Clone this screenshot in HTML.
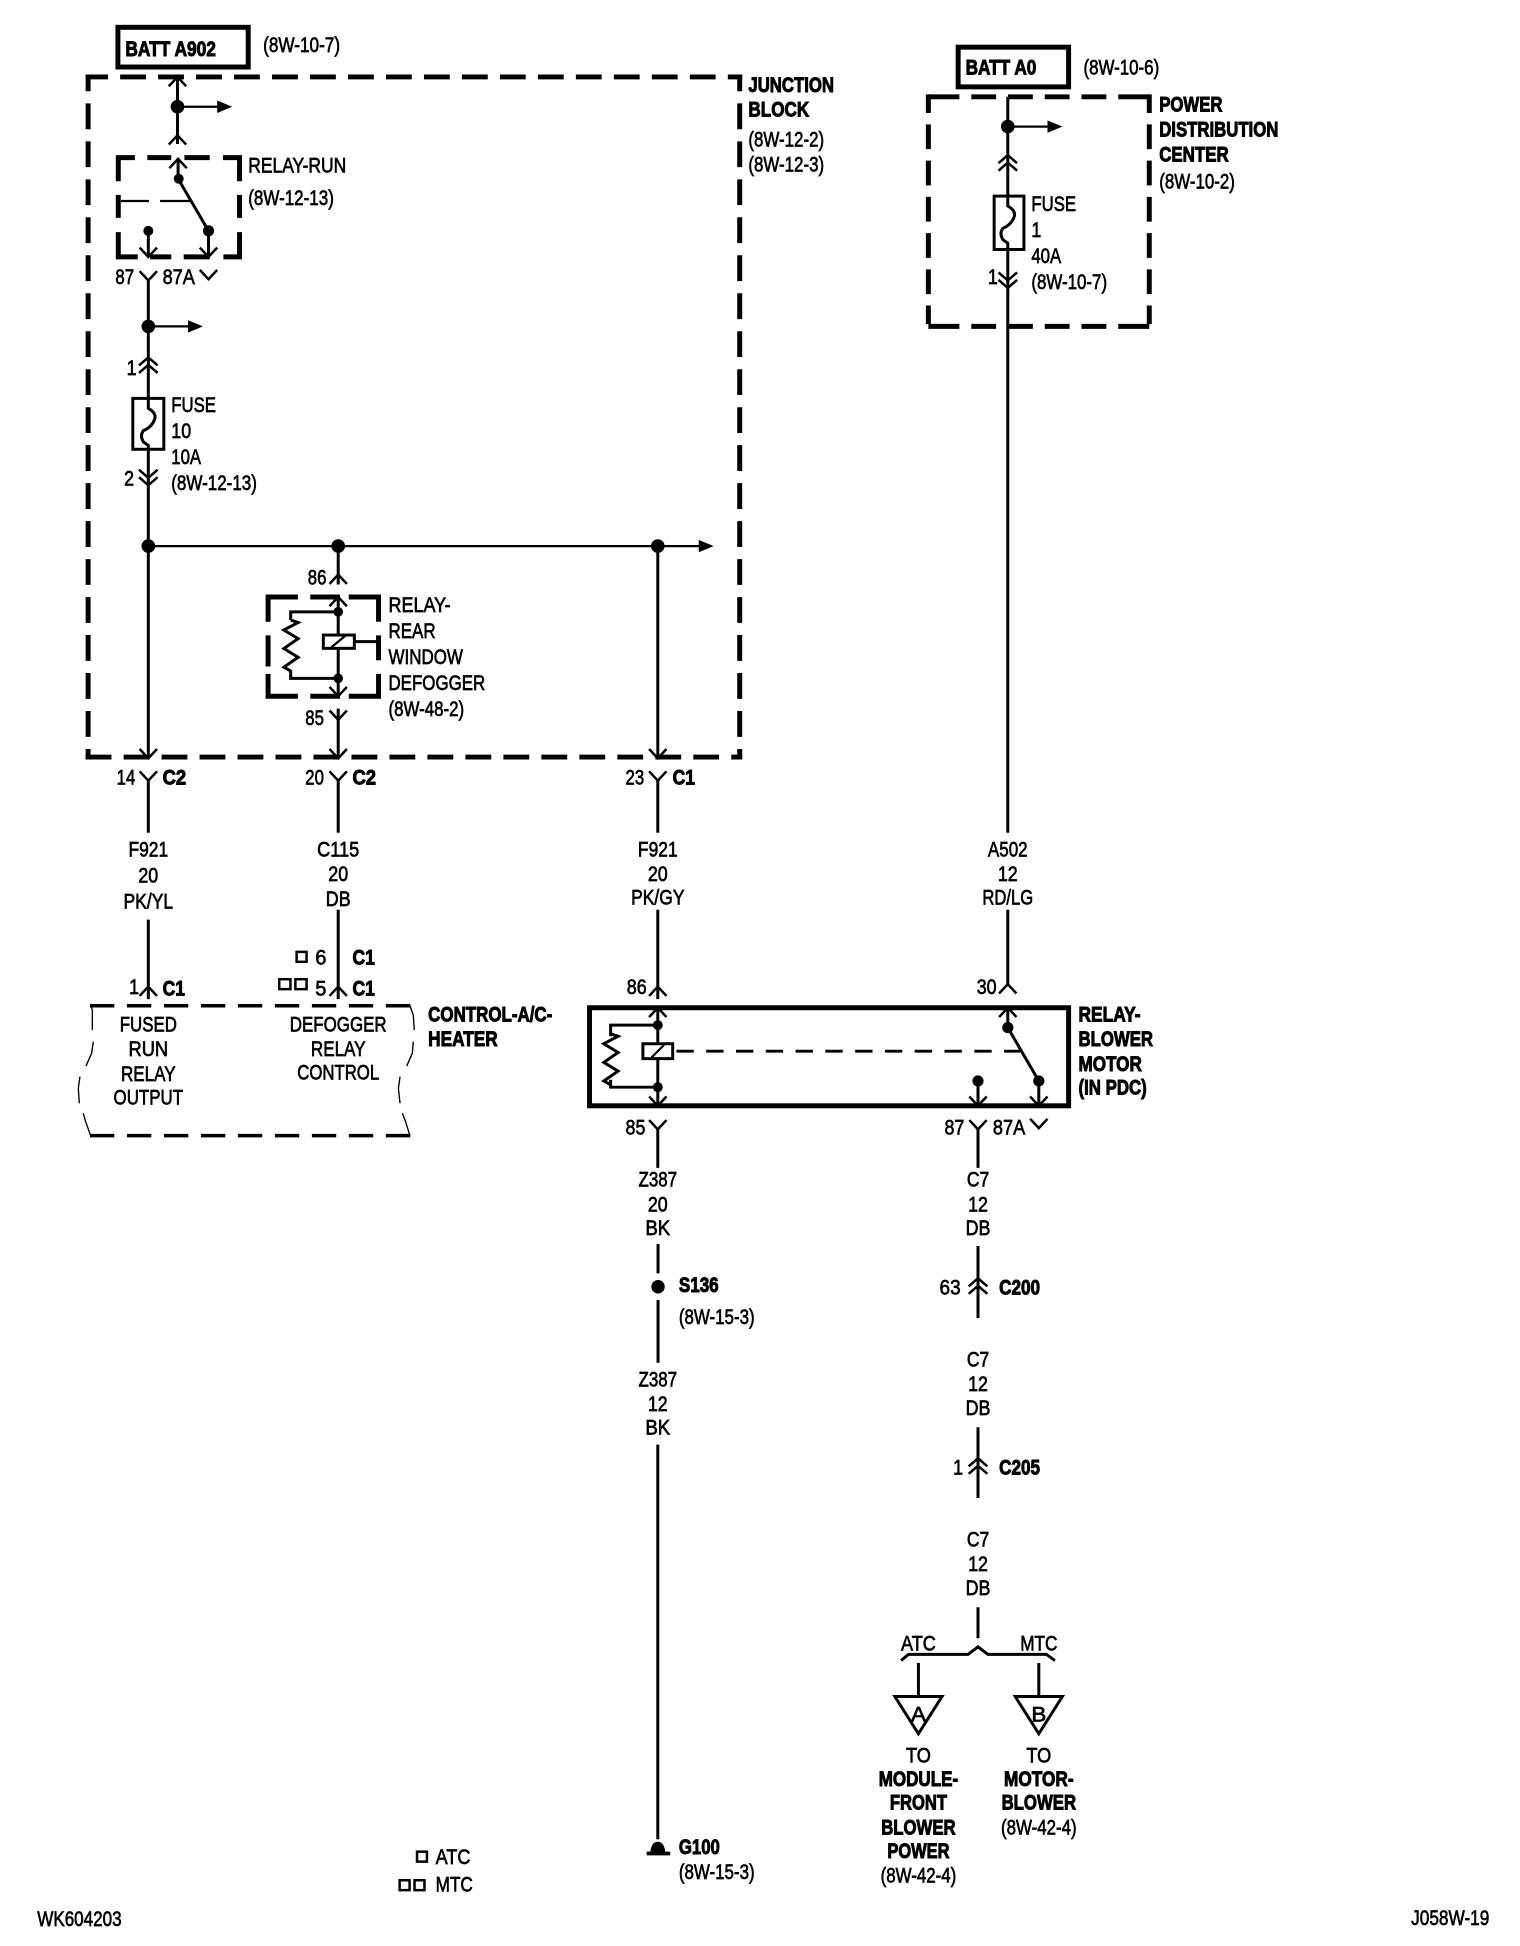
<!DOCTYPE html>
<html><head><meta charset="utf-8"><style>
html,body{margin:0;padding:0;background:#fff}
svg{display:block}
text{font-family:"Liberation Sans",Arial,sans-serif;font-size:17.5px;fill:#000;stroke:#000;stroke-width:.55px}
.b{font-weight:bold;stroke-width:.8px}
.m{text-anchor:middle}
.w{fill:none;stroke:#000;stroke-width:2.4}
.h{fill:none;stroke:#000;stroke-width:1.8}
.c{fill:none;stroke:#000;stroke-width:2}
.d{fill:none;stroke:#000;stroke-width:4}
.t{fill:none;stroke:#000;stroke-width:1.1}
</style></head><body>
<svg xmlns="http://www.w3.org/2000/svg" width="1520" height="1946" viewBox="0 0 1224.7 1568" preserveAspectRatio="none">
<defs>
<path id="u" class="c" d="M-7 7.5 L0 0 L7 7.5"/>
<path id="v" class="c" d="M-7 -7.5 L0 0 L7 -7.5"/>
<path id="du" class="c" d="M-7.5 6.5 L0 0 L7.5 6.5M-7.5 12.5 L0 6 L7.5 12.5"/>
<path id="dv" class="c" d="M-7.5 -6.5 L0 0 L7.5 -6.5M-7.5 -12.5 L0 -6 L7.5 -12.5"/>
<g id="ar"><path class="h" d="M0 0H34"/><path d="M32 -5L44 0L32 5Z"/></g>
<path id="fz" class="w" d="M0 0V8Q7 12 5 17Q3 23 -4 26Q-7 30 -4 35L0 38V42"/>
<path id="zz" class="w" d="M0 0L6 2L-5.5 8L6 15L-5.5 23L6 30L-5.5 38L0 41"/>
</defs>

<!-- Junction block -->
<path class="d" stroke-dasharray="20.8 9.8" stroke-dashoffset="2.8" d="M69 62H598"/>
<path class="d" stroke-dasharray="20.8 9.8" d="M69 610H598"/>
<path class="d" stroke-dasharray="20.8 9.8" stroke-dashoffset="7.3" d="M71 60V612"/>
<path class="d" stroke-dasharray="20.8 9.8" stroke-dashoffset="7.3" d="M596 60V612"/>
<rect x="95" y="22" width="105" height="32" fill="none" stroke="#000" stroke-width="4"/>
<text x="101" y="45" class="b" textLength="73" lengthAdjust="spacingAndGlyphs">BATT A902</text>
<text x="212" y="42" textLength="62" lengthAdjust="spacingAndGlyphs">(8W-10-7)</text>
<path class="w" d="M143 62V116"/>
<use href="#u" x="143" y="62"/><use href="#u" x="143" y="109"/>
<circle cx="143" cy="86" r="5.5"/><use href="#ar" x="143" y="86"/>

<!-- Relay run -->
<path class="d" d="M95.3 146V127H108.7M118.7 127H138M148.6 127H169M179.7 127H193V146M95.3 157V175.6M193 157V175.6M95.3 187V207H111M121 207H138M148 207H169M180 207H193V187"/>
<path class="w" d="M143.5 128V144L168 186M119.5 186V207M168 186V207"/>
<path class="h" d="M97.5 162H120M129 162H153"/>
<use href="#u" x="143.5" y="128"/>
<circle cx="144" cy="144" r="4"/><circle cx="119.5" cy="186" r="4"/><circle cx="168" cy="186" r="4.5"/>
<use href="#v" x="119.5" y="207"/><use href="#v" x="168" y="207"/>
<text x="200" y="139" textLength="79" lengthAdjust="spacingAndGlyphs">RELAY-RUN</text>
<text x="200" y="165" textLength="69" lengthAdjust="spacingAndGlyphs">(8W-12-13)</text>
<text x="93" y="229" textLength="15" lengthAdjust="spacingAndGlyphs">87</text>
<text x="131" y="229" textLength="26" lengthAdjust="spacingAndGlyphs">87A</text>
<path class="w" d="M119.5 225V321M119.5 362V610"/>
<use href="#v" x="119.5" y="226"/><use href="#v" x="168" y="225"/>
<circle cx="119.5" cy="263" r="5.5"/><use href="#ar" x="119.5" y="263"/>
<text x="102" y="302" textLength="8" lengthAdjust="spacingAndGlyphs">1</text>
<use href="#du" x="119.5" y="288"/>
<rect x="107" y="321" width="25" height="41" fill="#fff" stroke="#000" stroke-width="2.4"/>
<use href="#fz" x="119.5" y="321"/>
<text x="138" y="332" textLength="36" lengthAdjust="spacingAndGlyphs">FUSE</text>
<text x="138" y="353" textLength="16" lengthAdjust="spacingAndGlyphs">10</text>
<text x="138" y="374" textLength="24" lengthAdjust="spacingAndGlyphs">10A</text>
<text x="138" y="395" textLength="69" lengthAdjust="spacingAndGlyphs">(8W-12-13)</text>
<text x="100" y="391" textLength="8" lengthAdjust="spacingAndGlyphs">2</text>
<use href="#dv" x="119.5" y="391"/>

<!-- Bus -->
<path class="h" d="M119 440H565"/>
<path class="w" d="M272.5 440V471M530 440V610"/>
<path d="M563 435L575 440L563 445Z"/>
<circle cx="119.5" cy="440" r="5.5"/><circle cx="272.5" cy="440" r="5.5"/><circle cx="530" cy="440" r="5.5"/>

<!-- Relay defogger -->
<text x="248" y="471" textLength="15" lengthAdjust="spacingAndGlyphs">86</text>
<use href="#u" x="272.5" y="463"/>
<path class="d" d="M216 501V481H240M250 481H274M281 481H305V501M216 512V537M305 512V532M216 543V561H240M250 561H274M281 561H305V543"/>
<use href="#u" x="272.5" y="481"/>
<path class="w" d="M272.5 481V561M272.5 493H234.2V499.6M234.2 540V546.6H272.5M272.5 571V610"/>
<path class="w" d="M285 517H305"/>
<use href="#zz" x="234.2" y="499.6"/>
<circle cx="272.5" cy="493" r="3.9"/><circle cx="272.5" cy="546.6" r="3.9"/>
<rect x="260.5" y="511.7" width="25" height="10.7" fill="#fff" stroke="#000" stroke-width="2.4"/>
<path class="h" d="M267 521.5L278 512.5"/>
<use href="#v" x="272.5" y="561"/>
<text x="246" y="584" textLength="15" lengthAdjust="spacingAndGlyphs">85</text>
<use href="#v" x="272.5" y="580"/>
<text x="313" y="493" textLength="50" lengthAdjust="spacingAndGlyphs">RELAY-</text>
<text x="313" y="514" textLength="38" lengthAdjust="spacingAndGlyphs">REAR</text>
<text x="313" y="535" textLength="60" lengthAdjust="spacingAndGlyphs">WINDOW</text>
<text x="313" y="556" textLength="78" lengthAdjust="spacingAndGlyphs">DEFOGGER</text>
<text x="313" y="577" textLength="61" lengthAdjust="spacingAndGlyphs">(8W-48-2)</text>
<use href="#v" x="119.5" y="611"/><use href="#v" x="272.5" y="611"/><use href="#v" x="530" y="611"/>

<text x="603" y="74" class="b" textLength="69" lengthAdjust="spacingAndGlyphs">JUNCTION</text>
<text x="603" y="94" class="b" textLength="49" lengthAdjust="spacingAndGlyphs">BLOCK</text>
<text x="603" y="118" textLength="61" lengthAdjust="spacingAndGlyphs">(8W-12-2)</text>
<text x="603" y="138" textLength="61" lengthAdjust="spacingAndGlyphs">(8W-12-3)</text>

<!-- Connectors below block -->
<use href="#v" x="119.5" y="629"/><use href="#v" x="272.5" y="629"/><use href="#v" x="530" y="629"/>
<path class="w" d="M119.5 629V671M272.5 629V671M530 629V671M119.5 741V805M272.5 733V805M530 733V805"/>
<text x="94" y="632" textLength="15" lengthAdjust="spacingAndGlyphs">14</text>
<text x="131" y="632" class="b" textLength="19" lengthAdjust="spacingAndGlyphs">C2</text>
<text x="246" y="632" textLength="15" lengthAdjust="spacingAndGlyphs">20</text>
<text x="284" y="632" class="b" textLength="19" lengthAdjust="spacingAndGlyphs">C2</text>
<text x="504" y="632" textLength="15" lengthAdjust="spacingAndGlyphs">23</text>
<text x="542" y="632" class="b" textLength="18" lengthAdjust="spacingAndGlyphs">C1</text>

<text x="119.5" y="690" class="m" textLength="32" lengthAdjust="spacingAndGlyphs">F921</text>
<text x="119.5" y="711" class="m" textLength="16" lengthAdjust="spacingAndGlyphs">20</text>
<text x="119.5" y="732" class="m" textLength="40" lengthAdjust="spacingAndGlyphs">PK/YL</text>
<text x="272.5" y="690" class="m" textLength="34" lengthAdjust="spacingAndGlyphs">C115</text>
<text x="272.5" y="710" class="m" textLength="16" lengthAdjust="spacingAndGlyphs">20</text>
<text x="272.5" y="730" class="m" textLength="20" lengthAdjust="spacingAndGlyphs">DB</text>
<text x="530" y="690" class="m" textLength="32" lengthAdjust="spacingAndGlyphs">F921</text>
<text x="530" y="710" class="m" textLength="16" lengthAdjust="spacingAndGlyphs">20</text>
<text x="530" y="729" class="m" textLength="43" lengthAdjust="spacingAndGlyphs">PK/GY</text>

<use href="#u" x="119.5" y="795"/><use href="#u" x="272.5" y="795"/><use href="#u" x="530" y="795"/>
<text x="104" y="801" textLength="8" lengthAdjust="spacingAndGlyphs">1</text>
<text x="131" y="802" class="b" textLength="18" lengthAdjust="spacingAndGlyphs">C1</text>
<rect x="239" y="767" width="8" height="8" fill="none" stroke="#000" stroke-width="2"/>
<text x="254" y="777" textLength="9" lengthAdjust="spacingAndGlyphs">6</text>
<text x="284" y="777" class="b" textLength="18" lengthAdjust="spacingAndGlyphs">C1</text>
<rect x="225" y="789" width="9" height="8" fill="none" stroke="#000" stroke-width="2"/>
<rect x="238" y="789" width="9" height="8" fill="none" stroke="#000" stroke-width="2"/>
<text x="254" y="802" textLength="9" lengthAdjust="spacingAndGlyphs">5</text>
<text x="284" y="802" class="b" textLength="18" lengthAdjust="spacingAndGlyphs">C1</text>

<!-- Control -->
<path fill="none" stroke="#000" stroke-width="2.8" stroke-dasharray="19.6 10.2" d="M72.5 810.4H331M72.5 915H331"/>
<path class="t" d="M73 810.3L74.4 813.8V830M75.2 839.3L73.8 848.7L69.3 859M64.4 867.5L63.1 877L63.9 889M67.1 897L69 903.8L73 915M330.3 810.3L333 818L333.8 830M333 839.3L332.2 848.7L327.7 859M322.3 867.5L321 877L322.3 889M324.2 897L326.8 903.8L330.3 915"/>
<text x="119.5" y="831" class="m" textLength="46" lengthAdjust="spacingAndGlyphs">FUSED</text>
<text x="119.5" y="851" class="m" textLength="32" lengthAdjust="spacingAndGlyphs">RUN</text>
<text x="119.5" y="871" class="m" textLength="44" lengthAdjust="spacingAndGlyphs">RELAY</text>
<text x="119.5" y="890" class="m" textLength="56" lengthAdjust="spacingAndGlyphs">OUTPUT</text>
<text x="272.5" y="831" class="m" textLength="78" lengthAdjust="spacingAndGlyphs">DEFOGGER</text>
<text x="272.5" y="851" class="m" textLength="44" lengthAdjust="spacingAndGlyphs">RELAY</text>
<text x="272.5" y="870" class="m" textLength="66" lengthAdjust="spacingAndGlyphs">CONTROL</text>
<text x="345" y="823" class="b" textLength="100" lengthAdjust="spacingAndGlyphs">CONTROL-A/C-</text>
<text x="345" y="843" class="b" textLength="56" lengthAdjust="spacingAndGlyphs">HEATER</text>

<!-- Relay blower -->
<text x="505" y="801" textLength="16" lengthAdjust="spacingAndGlyphs">86</text>
<text x="787" y="801" textLength="16" lengthAdjust="spacingAndGlyphs">30</text>
<rect x="475" y="812" width="386" height="79" fill="none" stroke="#000" stroke-width="4"/>
<use href="#u" x="530" y="812"/><use href="#u" x="812" y="812"/><use href="#u" x="812" y="793"/>
<path class="w" d="M530 812V891M530 826H492V835M492 870V876H530M812 812V828L837 871V891M788 871V891"/>
<use href="#zz" x="492" y="833"/>
<circle cx="530" cy="826" r="4"/><circle cx="530" cy="876" r="4"/><circle cx="812" cy="828" r="4.5"/><circle cx="788" cy="871" r="4.5"/><circle cx="837" cy="871" r="4.5"/>
<rect x="518" y="841" width="24" height="12" fill="#fff" stroke="#000" stroke-width="2.4"/>
<path class="h" d="M525 852L535 842"/>
<path fill="none" stroke="#000" stroke-width="2.4" stroke-dasharray="14 10" d="M545 847H822"/>
<use href="#v" x="530" y="891"/><use href="#v" x="788" y="891"/><use href="#v" x="837" y="891"/>
<text x="869" y="823" class="b" textLength="50" lengthAdjust="spacingAndGlyphs">RELAY-</text>
<text x="869" y="843" class="b" textLength="60" lengthAdjust="spacingAndGlyphs">BLOWER</text>
<text x="869" y="863" class="b" textLength="51" lengthAdjust="spacingAndGlyphs">MOTOR</text>
<text x="869" y="882" class="b" textLength="55" lengthAdjust="spacingAndGlyphs">(IN PDC)</text>
<text x="504" y="914" textLength="16" lengthAdjust="spacingAndGlyphs">85</text>
<text x="761" y="914" textLength="16" lengthAdjust="spacingAndGlyphs">87</text>
<text x="800" y="914" textLength="26" lengthAdjust="spacingAndGlyphs">87A</text>
<use href="#v" x="530" y="910"/><use href="#v" x="788" y="910"/><use href="#v" x="837" y="909"/>
<path class="w" d="M530 910V941M788 910V941"/>

<text x="530" y="956" class="m" textLength="31" lengthAdjust="spacingAndGlyphs">Z387</text>
<text x="530" y="976" class="m" textLength="16" lengthAdjust="spacingAndGlyphs">20</text>
<text x="530" y="995" class="m" textLength="20" lengthAdjust="spacingAndGlyphs">BK</text>
<path class="w" d="M530.2 1002.4V1026M530.2 1047.5V1098M530 1164V1482"/>
<circle cx="530.2" cy="1036.8" r="5.4"/>
<text x="547" y="1041" class="b" textLength="32" lengthAdjust="spacingAndGlyphs">S136</text>
<text x="547" y="1067" textLength="61" lengthAdjust="spacingAndGlyphs">(8W-15-3)</text>
<text x="530" y="1117" class="m" textLength="31" lengthAdjust="spacingAndGlyphs">Z387</text>
<text x="530" y="1137" class="m" textLength="16" lengthAdjust="spacingAndGlyphs">12</text>
<text x="530" y="1156" class="m" textLength="20" lengthAdjust="spacingAndGlyphs">BK</text>
<path d="M521 1495H540V1492H536Q535 1484 530 1484Q525 1484 524 1492H521Z"/>
<text x="547" y="1494" class="b" textLength="33" lengthAdjust="spacingAndGlyphs">G100</text>
<text x="547" y="1514" textLength="61" lengthAdjust="spacingAndGlyphs">(8W-15-3)</text>

<text x="788" y="956" class="m" textLength="18" lengthAdjust="spacingAndGlyphs">C7</text>
<text x="788" y="976" class="m" textLength="16" lengthAdjust="spacingAndGlyphs">12</text>
<text x="788" y="995" class="m" textLength="20" lengthAdjust="spacingAndGlyphs">DB</text>
<path class="w" d="M788 1004V1062M788 1150V1207M788 1295V1320"/>
<use href="#du" x="788" y="1030"/>
<text x="757" y="1043" textLength="17" lengthAdjust="spacingAndGlyphs">63</text>
<text x="805" y="1043" class="b" textLength="33" lengthAdjust="spacingAndGlyphs">C200</text>
<text x="788" y="1101" class="m" textLength="18" lengthAdjust="spacingAndGlyphs">C7</text>
<text x="788" y="1121" class="m" textLength="16" lengthAdjust="spacingAndGlyphs">12</text>
<text x="788" y="1140" class="m" textLength="20" lengthAdjust="spacingAndGlyphs">DB</text>
<use href="#du" x="788" y="1175"/>
<text x="768" y="1188" textLength="8" lengthAdjust="spacingAndGlyphs">1</text>
<text x="805" y="1188" class="b" textLength="33" lengthAdjust="spacingAndGlyphs">C205</text>
<text x="788" y="1246" class="m" textLength="18" lengthAdjust="spacingAndGlyphs">C7</text>
<text x="788" y="1266" class="m" textLength="16" lengthAdjust="spacingAndGlyphs">12</text>
<text x="788" y="1285" class="m" textLength="20" lengthAdjust="spacingAndGlyphs">DB</text>

<path class="w" d="M726 1338L732 1333H780L788 1327L796 1333H843L850 1338M740 1340V1367M837 1340V1367"/>
<text x="740" y="1330" class="m" textLength="28" lengthAdjust="spacingAndGlyphs">ATC</text>
<text x="837" y="1330" class="m" textLength="30" lengthAdjust="spacingAndGlyphs">MTC</text>
<path class="w" d="M721 1367H759L740 1397Z"/><path class="w" d="M818 1367H856L837 1397Z"/>
<text x="740" y="1387" class="m" textLength="12" lengthAdjust="spacingAndGlyphs">A</text>
<text x="837" y="1387" class="m" textLength="12" lengthAdjust="spacingAndGlyphs">B</text>
<text x="740" y="1420" class="m" textLength="20" lengthAdjust="spacingAndGlyphs">TO</text>
<text x="740" y="1439" class="m b" textLength="64" lengthAdjust="spacingAndGlyphs">MODULE-</text>
<text x="740" y="1458" class="m b" textLength="46" lengthAdjust="spacingAndGlyphs">FRONT</text>
<text x="740" y="1478" class="m b" textLength="60" lengthAdjust="spacingAndGlyphs">BLOWER</text>
<text x="740" y="1497" class="m b" textLength="50" lengthAdjust="spacingAndGlyphs">POWER</text>
<text x="740" y="1517" class="m" textLength="61" lengthAdjust="spacingAndGlyphs">(8W-42-4)</text>
<text x="837" y="1420" class="m" textLength="20" lengthAdjust="spacingAndGlyphs">TO</text>
<text x="837" y="1439" class="m b" textLength="56" lengthAdjust="spacingAndGlyphs">MOTOR-</text>
<text x="837" y="1458" class="m b" textLength="60" lengthAdjust="spacingAndGlyphs">BLOWER</text>
<text x="837" y="1478" class="m" textLength="61" lengthAdjust="spacingAndGlyphs">(8W-42-4)</text>

<!-- PDC -->
<rect x="772" y="38" width="89" height="32" fill="none" stroke="#000" stroke-width="4"/>
<text x="778" y="60" class="b" textLength="57" lengthAdjust="spacingAndGlyphs">BATT A0</text>
<text x="873" y="60" textLength="61" lengthAdjust="spacingAndGlyphs">(8W-10-6)</text>
<path class="d" stroke-dasharray="25 9.6 20 9.6 20 9.6 20 9.6 20 9.6 25 200" d="M748 78H926"/>
<path class="d" stroke-dasharray="25 9.6 20 9.6 20 9.6 20 9.6 20 9.6 25 200" d="M748 263H926"/>
<path class="d" stroke-dasharray="15 9.2 20 9.2 20 9.2 20 9.2 20 9.2 20 9.2 15 200" d="M748 76V265"/>
<path class="d" stroke-dasharray="15 9.2 20 9.2 20 9.2 20 9.2 20 9.2 20 9.2 15 200" d="M926 76V265"/>
<path class="w" d="M812 78V158M812 201V671M812 733V795"/>
<circle cx="812" cy="102" r="5.5"/><use href="#ar" x="812" y="102"/>
<use href="#du" x="812" y="125"/>
<rect x="801" y="158" width="24" height="43" fill="#fff" stroke="#000" stroke-width="2.4"/>
<use href="#fz" x="812" y="158"/>
<use href="#dv" x="812" y="232"/>
<text x="796" y="229" textLength="8" lengthAdjust="spacingAndGlyphs">1</text>
<text x="831" y="170" textLength="36" lengthAdjust="spacingAndGlyphs">FUSE</text>
<text x="831" y="191" textLength="8" lengthAdjust="spacingAndGlyphs">1</text>
<text x="831" y="212" textLength="24" lengthAdjust="spacingAndGlyphs">40A</text>
<text x="831" y="233" textLength="61" lengthAdjust="spacingAndGlyphs">(8W-10-7)</text>
<text x="934" y="90" class="b" textLength="51" lengthAdjust="spacingAndGlyphs">POWER</text>
<text x="934" y="110" class="b" textLength="96" lengthAdjust="spacingAndGlyphs">DISTRIBUTION</text>
<text x="934" y="130" class="b" textLength="56" lengthAdjust="spacingAndGlyphs">CENTER</text>
<text x="934" y="152" textLength="61" lengthAdjust="spacingAndGlyphs">(8W-10-2)</text>
<text x="812" y="690" class="m" textLength="32" lengthAdjust="spacingAndGlyphs">A502</text>
<text x="812" y="710" class="m" textLength="16" lengthAdjust="spacingAndGlyphs">12</text>
<text x="812" y="729" class="m" textLength="41" lengthAdjust="spacingAndGlyphs">RD/LG</text>

<!-- Legend -->
<rect x="336" y="1492" width="8" height="8" fill="none" stroke="#000" stroke-width="2"/>
<text x="351" y="1502" textLength="28" lengthAdjust="spacingAndGlyphs">ATC</text>
<rect x="322" y="1515" width="8" height="8" fill="none" stroke="#000" stroke-width="2"/>
<rect x="334" y="1515" width="8" height="8" fill="none" stroke="#000" stroke-width="2"/>
<text x="351" y="1524" textLength="30" lengthAdjust="spacingAndGlyphs">MTC</text>
<text x="30" y="1552" textLength="68" lengthAdjust="spacingAndGlyphs">WK604203</text>
<text x="1137" y="1551" textLength="63" lengthAdjust="spacingAndGlyphs">J058W-19</text>
</svg>
</body></html>
